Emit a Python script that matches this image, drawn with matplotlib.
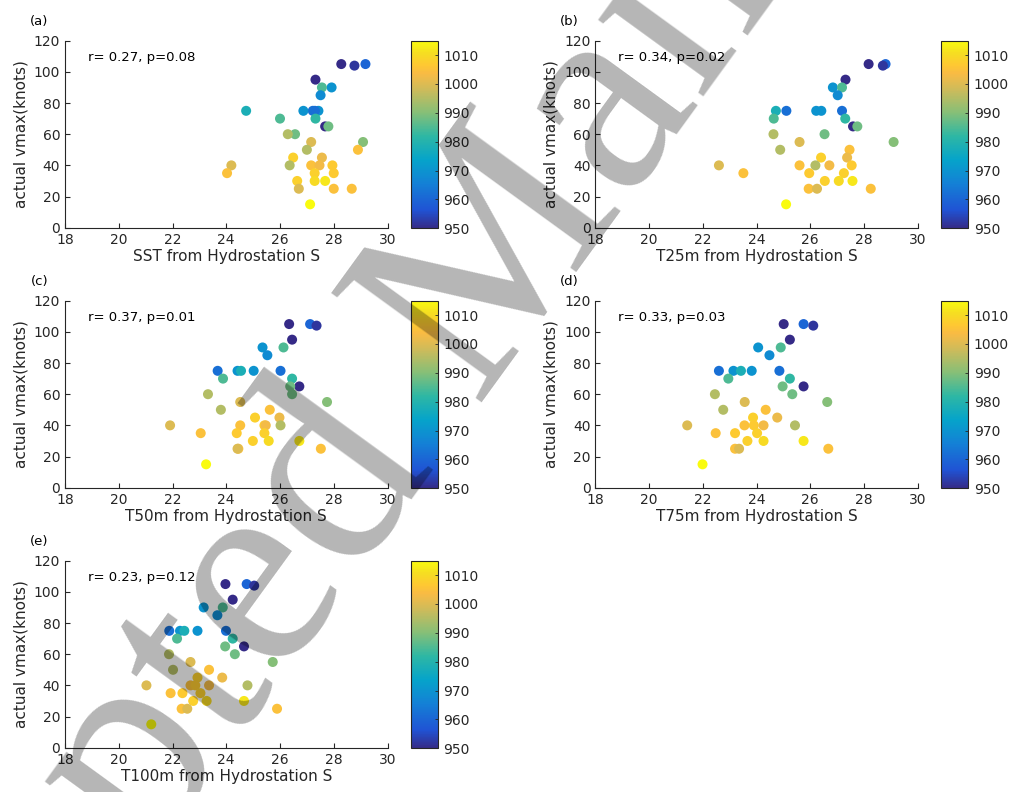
import matplotlib
matplotlib.use('Agg')
import matplotlib.pyplot as plt
from matplotlib.colors import LinearSegmentedColormap, Normalize

# storm data: observed max wind (knots) and min pressure (hPa), same storms in every panel
vmax = [105, 105, 104, 95, 90, 90, 85, 75, 75, 75, 75, 75, 70, 70, 65, 65, 60, 60, 55, 55,
        50, 50, 45, 45, 40, 40, 40, 40, 40, 35, 35, 35, 30, 30, 30, 25, 25, 25, 15]
mslp = [950, 960, 952, 950, 970, 985, 968, 962, 970, 978, 970, 962, 985, 982, 950, 988, 988, 995, 990, 1000,
        995, 1005, 1008, 1002, 1000, 1005, 1007, 1003, 995, 1005, 1007, 1008, 1008, 1010, 1012, 1005, 1000, 1005, 1015]

# ocean temperature at Hydrostation S for each storm
sst = [28.28, 29.18, 28.77, 27.32, 27.92, 27.56, 27.51, 27.22, 26.87, 24.74, 27.43, 27.30, 26.00, 27.32, 27.68,
       27.80, 26.56, 26.29, 29.09, 27.16, 27.00, 28.90, 26.49, 27.56, 24.19, 27.16, 27.95, 27.47, 26.36, 24.03,
       28.00, 27.29, 26.64, 27.29, 27.68, 28.00, 26.70, 28.67, 27.12]
t25 = [28.17, 28.80, 28.70, 27.31, 26.84, 27.18, 27.02, 25.11, 26.22, 24.72, 26.41, 27.18, 24.64, 27.30, 27.59,
       27.75, 26.53, 24.63, 29.10, 25.60, 24.88, 27.46, 26.40, 27.37, 22.60, 25.60, 27.54, 26.71, 26.19, 23.51,
       25.96, 27.25, 26.54, 27.06, 27.57, 25.94, 26.25, 28.25, 25.10]
t50 = [26.34, 27.12, 27.36, 26.45, 25.35, 26.13, 25.53, 23.68, 24.42, 24.55, 25.02, 26.02, 23.88, 26.45, 26.72,
       26.38, 26.45, 23.32, 27.75, 24.52, 23.80, 25.62, 25.07, 25.98, 21.91, 24.52, 25.42, 25.47, 26.02, 23.05,
       24.39, 25.42, 24.99, 25.58, 26.72, 24.45, 24.42, 27.52, 23.25]
t75 = [25.01, 25.75, 26.11, 25.24, 24.06, 24.90, 24.48, 22.60, 23.14, 23.42, 23.82, 24.85, 22.95, 25.24, 25.75,
       24.97, 25.33, 22.45, 26.63, 23.56, 22.76, 24.34, 23.87, 24.77, 21.42, 23.55, 23.90, 24.26, 25.43, 22.48,
       23.20, 24.02, 23.66, 24.26, 25.75, 23.20, 23.35, 26.67, 21.99]
t100 = [23.97, 24.76, 25.04, 24.24, 23.16, 23.87, 23.67, 21.88, 22.28, 22.44, 22.93, 23.99, 22.17, 24.24, 24.66,
        23.96, 24.32, 21.87, 25.73, 22.67, 22.02, 23.36, 22.93, 23.85, 21.03, 22.67, 22.85, 23.36, 24.79, 21.93,
        22.37, 23.04, 22.77, 23.27, 24.66, 22.34, 22.55, 25.89, 21.21]

xlabels = ['SST from Hydrostation S', 'T25m from Hydrostation S', 'T50m from Hydrostation S',
           'T75m from Hydrostation S', 'T100m from Hydrostation S']
stats = ['r= 0.27, p=0.08', 'r= 0.34, p=0.02', 'r= 0.37, p=0.01', 'r= 0.33, p=0.03', 'r= 0.23, p=0.12']
letters = ['(a)', '(b)', '(c)', '(d)', '(e)']
xdata = [sst, t25, t50, t75, t100]

# matlab parula, picked rows of the 64 entry table (row number, rgb)
parula_rows = [
    (1, (0.2081, 0.1663, 0.5292)), (7, (0.1253, 0.3242, 0.8303)), (16, (0.0779, 0.5040, 0.8384)),
    (24, (0.0231, 0.6418, 0.7913)), (32, (0.1801, 0.7177, 0.6424)), (40, (0.5300, 0.7491, 0.4661)),
    (48, (0.8185, 0.7327, 0.3498)), (53, (0.9739, 0.7314, 0.2666)), (56, (0.9955, 0.7861, 0.1967)),
    (60, (0.9626, 0.8705, 0.1309)), (64, (0.9763, 0.9831, 0.0538))]
parula = LinearSegmentedColormap.from_list('parula', [((r - 1) / 63, c) for r, c in parula_rows])
norm = Normalize(950, 1015)

W, H = 1009, 792
fig = plt.figure(figsize=(W / 100, H / 100), dpi=100)
txt = (0.15, 0.15, 0.15)

# panel boxes in pixels: left, top
boxes = [(65, 40.7), (595.3, 40.7), (65, 300.7), (595.3, 300.7), (65, 560.7)]
aw, ah = 322.5, 187
cb_off, cb_w = 346, 27

for i in range(5):
    left, top = boxes[i]
    ax = fig.add_axes([left / W, 1 - (top + ah) / H, aw / W, ah / H])
    sc = ax.scatter(xdata[i], vmax, c=mslp, cmap=parula, norm=norm, s=52, edgecolors='none')
    ax.set_xlim(18, 30)
    ax.set_ylim(0, 120)
    ax.set_xticks(range(18, 31, 2))
    ax.set_yticks(range(0, 121, 20))
    ax.spines['top'].set_visible(False)
    ax.spines['right'].set_visible(False)
    for s in ['left', 'bottom']:
        ax.spines[s].set_color(txt)
        ax.spines[s].set_linewidth(0.8)
    ax.tick_params(direction='in', length=3.5, colors=txt, labelsize=10, width=0.8)
    ax.set_xlabel(xlabels[i], fontsize=11, color=txt, labelpad=2)
    ax.set_ylabel('actual vmax(knots)', fontsize=11, color=txt, labelpad=4)
    ax.text(18.85, 109.5, stats[i], fontsize=9.5, va='center', ha='left')
    ax.text(-0.08, 1.1, letters[i], transform=ax.transAxes, fontsize=9.5, va='center', ha='center')

    cax = fig.add_axes([(left + cb_off) / W, 1 - (top + ah + 0.6) / H, cb_w / W, (ah + 0.6) / H])
    cb = fig.colorbar(sc, cax=cax, ticks=range(950, 1011, 10))
    cb.outline.set_edgecolor(txt)
    cb.outline.set_linewidth(0.8)
    cax.tick_params(direction='in', length=2.5, colors=txt, labelsize=10, width=0.6, pad=4)

# "Accepted Manuscript" watermark
fig.text(0.462, 0.612, 'Accepted Manuscript', fontsize=205, family='Liberation Serif',
         rotation=54, ha='center', va='center', color='black', alpha=0.29, zorder=10)

fig.savefig('out.png', dpi=100)
